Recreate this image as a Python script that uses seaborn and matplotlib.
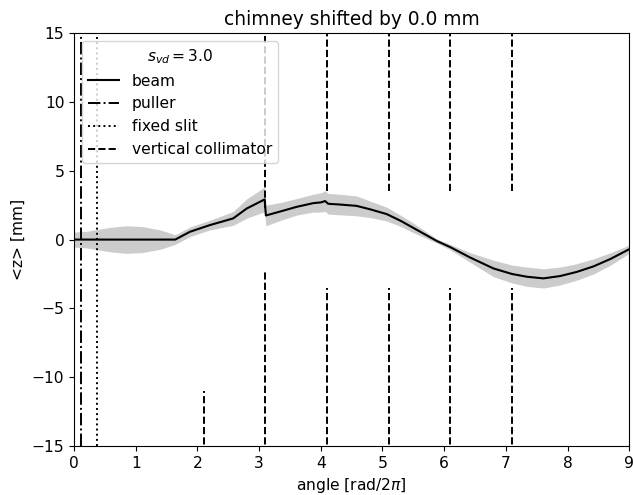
import matplotlib
matplotlib.use('Agg')
import matplotlib.pyplot as plt
import seaborn as sns
import numpy as np

# beam centroid <z> and its spread along the ring
angle = [0.0, 0.2, 0.4, 0.6, 0.85, 1.1, 1.4, 1.64, 1.88, 2.2, 2.58, 2.8, 2.95,
         3.09, 3.11, 3.35, 3.61, 3.88, 4.0, 4.07, 4.12, 4.3, 4.58, 4.8, 5.07,
         5.3, 5.5, 5.88, 6.1, 6.42, 6.8, 7.1, 7.34, 7.61, 7.88, 8.15, 8.42,
         8.7, 9.0]
z_mean = [0.0, 0.0, 0.0, 0.0, 0.0, 0.0, 0.0, 0.0, 0.57, 1.05, 1.54, 2.26, 2.6,
          2.92, 1.75, 2.05, 2.38, 2.65, 2.7, 2.8, 2.6, 2.55, 2.45, 2.2, 1.85,
          1.35, 0.85, -0.1, -0.55, -1.3, -2.1, -2.5, -2.7, -2.82, -2.65, -2.35,
          -1.95, -1.4, -0.7]
z_std = [0.55, 0.6, 0.75, 0.9, 1.0, 0.95, 0.7, 0.35, 0.35, 0.35, 0.5, 0.7, 0.8,
         0.9, 0.75, 0.65, 0.6, 0.65, 0.7, 0.75, 0.75, 0.75, 0.72, 0.6, 0.5,
         0.4, 0.35, 0.15, 0.2, 0.35, 0.6, 0.65, 0.7, 0.7, 0.65, 0.6, 0.55,
         0.45, 0.3]

# apertures
puller_x = 0.108
slit_x = 0.367
coll_x = [2.1, 3.1, 4.1, 5.1, 6.1, 7.1]
coll_upper = [20.0, 2.3, 3.5, 3.5, 3.5, 3.5]
coll_lower = [-11.0, -2.3, -3.5, -3.5, -3.5, -3.5]

s_vd = 3.0
shift = 0.0


def main():
    plt.rcParams['font.size'] = 11.2

    fig, ax = plt.subplots(figsize=(6.33, 4.95), dpi=100)
    fig.subplots_adjust(left=0.117, right=0.994, top=0.933, bottom=0.099)

    lo = np.array(z_mean) - np.array(z_std)
    hi = np.array(z_mean) + np.array(z_std)
    ax.fill_between(angle, lo, hi, color='0.8', linewidth=0, zorder=1)

    sns.lineplot(x=angle, y=z_mean, color='k', linewidth=1.5, label='beam', ax=ax, zorder=3)

    ax.axvline(puller_x, color='k', linestyle='-.', linewidth=1.4, label='puller', zorder=2)
    ax.axvline(slit_x, color='k', linestyle=':', linewidth=1.4, label='fixed slit', zorder=2)

    ymax = 15
    ax.vlines(coll_x + coll_x,
              coll_upper + [-ymax - 5] * len(coll_x),
              [ymax + 5] * len(coll_x) + coll_lower,
              colors='k', linestyles='dashed', linewidth=1.4,
              label='vertical collimator', zorder=2)

    ax.set_xlim(0, 9)
    ax.set_ylim(-15, 15)
    ax.set_xticks(range(0, 10))
    ax.set_yticks(range(-15, 16, 5))

    ax.set_title('chimney shifted by ' + str(shift) + ' mm')
    ax.set_xlabel(r'angle [rad/2$\pi$]')
    ax.set_ylabel('<z> [mm]')

    ax.legend(title=r'$s_{vd} = %.1f$' % s_vd, loc='upper left')

    plt.savefig('out.png', dpi=100)
    plt.close()


if __name__ == '__main__':
    main()
